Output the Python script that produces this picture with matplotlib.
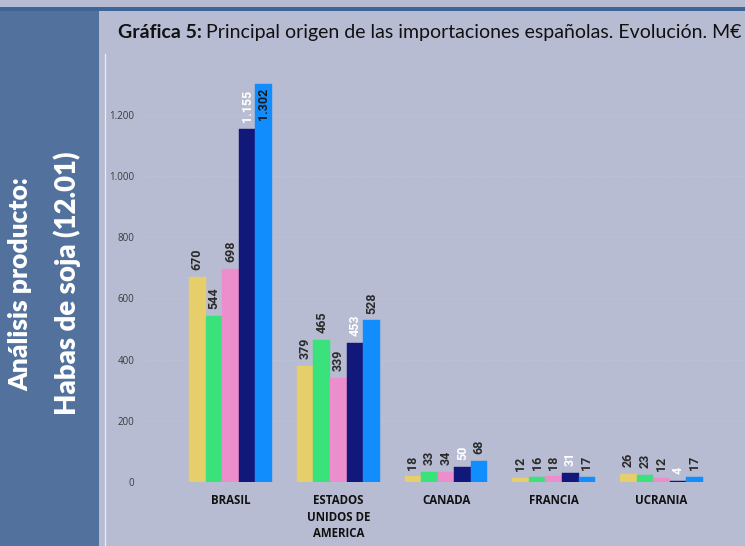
import numpy as np
import matplotlib
matplotlib.use("Agg")
import matplotlib.pyplot as plt
from matplotlib.lines import Line2D
from matplotlib.patches import Rectangle

# Datos (M€) - principal origen de las importaciones de habas de soja
paises = ["BRASIL", "ESTADOS\nUNIDOS DE\nAMERICA", "CANADA", "FRANCIA", "UCRANIA"]
serie_1 = [670, 379, 18, 12, 26]
serie_2 = [544, 465, 33, 16, 23]
serie_3 = [698, 339, 34, 18, 12]
serie_4 = [1155, 453, 50, 31, 4]
serie_5 = [1302, 528, 68, 17, 17]
series = [serie_1, serie_2, serie_3, serie_4, serie_5]
colores = ["#e6cf6b", "#3ae27c", "#ec8ecb", "#12187a", "#128dfe"]
yticks = [0, 200, 400, 600, 800, 1000, 1200]

W, H = 745, 546
fondo = "#b8bcd2"


def fmt(v):
    return f"{v:,}".replace(",", ".")


fig = plt.figure(figsize=(W / 100, H / 100), dpi=100)
fig.patch.set_facecolor(fondo)

# franja superior y panel izquierdo
fig.add_artist(Rectangle((0, 1 - 11 / H), 1, 4 / H, transform=fig.transFigure,
                         color="#3d6598", lw=0))
fig.add_artist(Rectangle((0, 0), 99 / W, 1 - 11 / H, transform=fig.transFigure,
                         color="#52719d", lw=0))
fig.text(20 / W, 1 - 284 / H, "Análisis producto:", rotation=90, ha="center", va="center",
         color="white", fontweight="heavy", fontsize=19, family="Lato")
fig.text(67 / W, 1 - 283 / H, "Habas de soja (12.01)", rotation=90, ha="center", va="center",
         color="white", fontweight="heavy", fontsize=19.8, family="Lato")

# titulo (parte en negrita + resto)
t1 = fig.text(118 / W, 1 - 38 / H, "Gráfica 5:", fontsize=14, fontweight="bold",
              family="Lato", color="#111111", va="baseline")
fig.canvas.draw()
bb = t1.get_window_extent()
fig.text((bb.x1 + 4) / W, 1 - 38 / H,
         "Principal origen de las importaciones españolas. Evolución. M€",
         fontsize=14, family="Lato", color="#111111", va="baseline")

# linea vertical blanca
fig.add_artist(Line2D([105 / W, 105 / W], [0, 1 - 54 / H], transform=fig.transFigure,
                      color="#eceef5", lw=0.9))

ax = fig.add_axes([140 / W, 64 / H, (W - 140) / W, (482 - 55) / H])
ax.set_facecolor("none")
for s in ax.spines.values():
    s.set_visible(False)

x = np.arange(len(paises))
ancho = 0.154
ymax = 1396
for j, (vals, c) in enumerate(zip(series, colores)):
    xs = x + (j - 2) * ancho
    ax.bar(xs, vals, width=ancho, color=c, edgecolor=c, linewidth=0.3, zorder=3)
    col_lbl = "white" if j == 3 else "#2a2a2a"
    for xi, v in zip(xs, vals):
        if v > ymax - 110:
            ax.annotate(fmt(v), (xi, v), xytext=(0, -3), textcoords="offset points",
                        rotation=90, ha="center", va="top", fontsize=9,
                        fontweight="bold", family="Roboto", color="#1a1a1a", zorder=4)
        else:
            ax.annotate(fmt(v), (xi, v), xytext=(0, 5), textcoords="offset points",
                        rotation=90, ha="center", va="bottom", fontsize=9,
                        fontweight="bold", family="Roboto", color=col_lbl, zorder=4)

ax.set_xlim(-0.840, 4.775)
ax.set_ylim(0, ymax)
ax.set_yticks(yticks, [fmt(v) for v in yticks])
ax.set_xticks(x, paises)
ax.tick_params(axis="y", length=0, pad=4, labelsize=7, labelcolor="#3a3a3a")
ax.tick_params(axis="x", length=0, pad=9, labelsize=8.3, labelcolor="#111111")
for lbl in ax.get_yticklabels():
    lbl.set_family("Open Sans")
for lbl in ax.get_xticklabels():
    lbl.set_family("Open Sans")
    lbl.set_fontweight("bold")
    lbl.set_linespacing(1.32)
ax.grid(axis="y", color="#c2c6da", linestyle=(0, (1, 2)), lw=0.6, zorder=0)

fig.savefig("out.png", dpi=100, facecolor=fondo)
